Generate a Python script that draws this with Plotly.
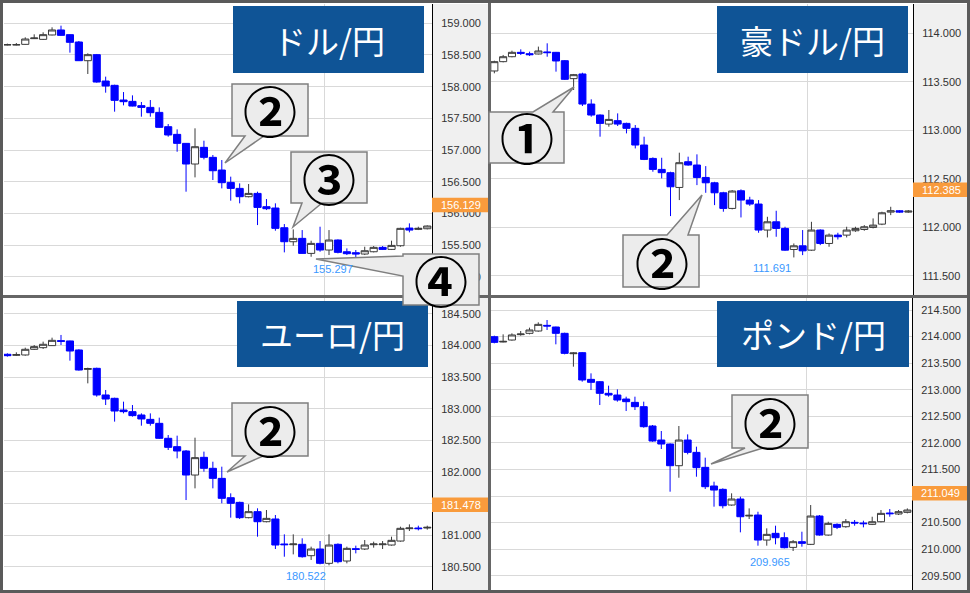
import plotly.graph_objects as go

W, H = 970, 593

# ---------------- data ----------------
TITLES = ["ドル/円", "豪ドル/円", "ユーロ/円", "ポンド/円"]
CURRENT_PRICE = [156.129, 112.385, 181.478, 211.049]
DAY_BREAK = 35.5  # vertical separator between sessions (candle index)

USDJPY_OPEN = [158.658,158.658,158.668,158.758,158.747,158.816,158.895,158.821,158.705,158.410,158.505,158.089,158.021,157.789,157.768,157.700,157.673,157.594,157.368,157.247,157.105,156.779,157.042,156.884,156.684,156.489,156.394,156.263,156.315,156.105,156.084,155.773,155.552,155.605,155.368,155.526,155.421,155.579,155.394,155.379,155.358,155.394,155.463,155.431,155.489,155.768,155.747,155.757]
USDJPY_HIGH = [158.679,158.689,158.779,158.826,158.858,158.937,158.963,158.825,158.721,158.526,158.516,158.158,158.031,157.915,157.863,157.758,157.789,157.673,157.410,157.326,157.110,157.342,157.147,156.921,156.842,156.579,156.473,156.463,156.342,156.226,156.158,155.831,155.747,155.736,155.568,155.789,155.736,155.589,155.447,155.421,155.473,155.484,155.484,155.568,155.773,155.842,155.789,155.810]
USDJPY_LOW = [158.652,158.652,158.663,158.752,158.737,158.810,158.805,158.537,158.405,158.200,158.063,157.905,157.605,157.705,157.689,157.526,157.526,157.352,157.210,156.973,156.342,156.568,156.852,156.526,156.394,156.200,156.158,156.252,155.815,156.052,155.726,155.384,155.489,155.365,155.315,155.394,155.342,155.368,155.342,155.297,155.342,155.384,155.421,155.421,155.473,155.700,155.736,155.747]
USDJPY_CLOSE = [158.663,158.663,158.752,158.768,158.821,158.895,158.810,158.700,158.410,158.505,158.073,158.010,157.784,157.763,157.694,157.673,157.589,157.358,157.237,157.105,156.779,157.052,156.884,156.673,156.484,156.394,156.263,156.315,156.094,156.073,155.763,155.552,155.605,155.368,155.526,155.421,155.579,155.384,155.363,155.358,155.410,155.463,155.431,155.494,155.763,155.736,155.763,155.800]

AUDJPY_OPEN = [113.612,113.708,113.759,113.804,113.790,113.787,113.808,113.804,113.718,113.533,113.581,113.271,113.158,113.065,113.100,113.072,113.021,112.849,112.711,112.598,112.564,112.412,112.677,112.643,112.515,112.460,112.357,112.196,112.378,112.282,112.241,111.973,112.058,111.990,111.773,111.811,111.766,111.973,111.835,111.921,111.921,111.966,111.979,112.000,112.034,112.158,112.172,112.158]
AUDJPY_HIGH = [113.718,113.777,113.821,113.835,113.811,113.863,113.897,113.808,113.725,113.581,113.594,113.320,113.165,113.210,113.175,113.079,113.055,112.935,112.722,112.718,112.574,112.770,112.729,112.753,112.632,112.470,112.367,112.385,112.392,112.316,112.282,112.110,112.172,112.007,111.835,111.973,112.058,111.980,111.938,111.945,112.007,112.007,112.024,112.093,112.162,112.213,112.179,112.179]
AUDJPY_LOW = [113.588,113.701,113.753,113.777,113.766,113.783,113.759,113.605,113.519,113.416,113.251,113.141,112.935,113.038,113.045,112.969,112.814,112.694,112.574,112.505,112.117,112.282,112.636,112.436,112.357,112.230,112.162,112.186,112.103,112.223,111.945,111.897,111.904,111.759,111.691,111.715,111.759,111.818,111.801,111.876,111.897,111.955,111.966,111.990,112.024,112.127,112.151,112.151]
AUDJPY_CLOSE = [113.708,113.759,113.804,113.794,113.780,113.818,113.801,113.715,113.526,113.574,113.271,113.158,113.072,113.113,113.065,113.021,112.849,112.701,112.598,112.564,112.419,112.667,112.643,112.515,112.460,112.357,112.196,112.375,112.282,112.241,111.973,112.058,111.990,111.766,111.811,111.759,111.973,111.835,111.921,111.904,111.973,111.990,112.007,112.024,112.151,112.172,112.158,112.168]

EURJPY_OPEN = [183.862,183.846,183.851,183.941,183.967,183.999,184.078,184.073,183.930,183.624,183.640,183.218,183.165,182.980,182.954,182.901,182.832,182.769,182.532,182.400,182.331,181.951,182.231,182.057,181.898,181.592,181.518,181.276,181.371,181.212,181.255,180.859,180.848,180.854,180.674,180.780,180.553,180.854,180.590,180.785,180.780,180.848,180.848,180.843,180.906,181.102,181.112,181.112]
EURJPY_HIGH = [183.877,183.893,183.967,184.009,184.062,184.125,184.168,184.078,183.941,183.650,183.650,183.297,183.175,183.112,183.059,182.927,182.927,182.859,182.584,182.574,182.347,182.542,182.321,182.162,182.083,181.661,181.529,181.487,181.424,181.397,181.318,181.012,181.012,180.949,180.817,180.906,181.012,180.869,180.817,180.833,180.922,180.896,180.906,180.975,181.133,181.170,181.149,181.149]
EURJPY_LOW = [183.825,183.835,183.840,183.930,183.946,183.993,184.009,183.761,183.603,183.402,183.191,183.059,182.796,182.927,182.875,182.732,182.732,182.521,182.347,182.215,181.555,181.740,182.004,181.740,181.503,181.276,181.255,181.265,180.975,181.202,180.780,180.658,180.695,180.643,180.606,180.537,180.522,180.553,180.553,180.711,180.764,180.801,180.780,180.833,180.896,181.065,181.075,181.086]
EURJPY_CLOSE = [183.840,183.856,183.941,183.983,184.020,184.083,184.067,183.914,183.613,183.635,183.218,183.154,182.964,182.954,182.891,182.838,182.769,182.532,182.389,182.331,181.951,182.226,182.057,181.898,181.582,181.503,181.276,181.371,181.212,181.265,180.843,180.848,180.859,180.658,180.780,180.553,180.843,180.579,180.790,180.774,180.843,180.859,180.859,180.917,181.107,181.112,181.102,181.123]

GBPJPY_OPEN = [213.998,213.898,213.935,214.036,214.061,214.105,214.211,214.180,214.061,213.678,213.697,213.195,213.151,212.932,212.900,212.825,212.762,212.681,212.317,212.053,211.978,211.570,212.053,211.821,211.539,211.188,211.125,210.830,210.943,210.623,210.642,210.171,210.297,210.215,210.033,210.140,210.090,210.623,210.265,210.466,210.422,210.504,210.491,210.466,210.516,210.680,210.661,210.692]
GBPJPY_HIGH = [214.017,214.042,214.061,214.105,214.168,214.268,214.312,214.186,214.073,213.703,213.710,213.308,213.164,213.076,213.007,212.869,212.869,212.775,212.336,212.223,211.990,212.317,212.160,211.928,211.721,211.269,211.144,211.050,210.987,210.767,210.704,210.391,210.441,210.316,210.171,210.328,210.830,210.642,210.516,210.485,210.566,210.548,210.535,210.610,210.736,210.755,210.736,210.767]
GBPJPY_LOW = [213.873,213.891,213.923,214.017,214.042,214.092,214.124,213.854,213.666,213.434,213.151,212.994,212.712,212.869,212.775,212.599,212.618,212.285,212.022,211.884,211.081,211.344,211.784,211.363,211.131,210.799,210.767,210.817,210.316,210.566,210.065,210.065,210.090,210.014,209.965,210.046,210.077,210.253,210.253,210.378,210.403,210.441,210.410,210.453,210.504,210.610,210.642,210.673]
GBPJPY_CLOSE = [213.891,213.910,214.030,214.048,214.124,214.230,214.199,214.061,213.684,213.691,213.183,213.139,212.932,212.900,212.806,212.775,212.681,212.304,212.035,211.978,211.570,212.053,211.821,211.533,211.175,211.112,210.817,210.943,210.610,210.636,210.171,210.278,210.215,210.027,210.140,210.109,210.623,210.265,210.485,210.410,210.516,210.491,210.479,210.516,210.673,210.667,210.705,210.736]

CALLOUT_LABELS = ["②", "③", "④", "①", "②", "②", "②"]

# ---------------- styles / geometry ----------------
GRID = "#d9d9d9"
AXIS_BG = "#f0f0f0"
FRAME = "#666666"
TITLE_BG = "#0f5496"
ORANGE = "#f99b3c"
MIN_BLUE = "#3a98ff"
CALLOUT_FILL = "#ececec"
CALLOUT_LINE = "#7f7f7f"
JP_FONT = "Noto Sans CJK JP"
NUM_FONT = "Liberation Sans, Arial"


def fx(x):
    return x / W


def fy(y):
    return 1 - y / H


panels = [
    dict(o=USDJPY_OPEN, h=USDJPY_HIGH, l=USDJPY_LOW, c=USDJPY_CLOSE,
         yr=[154.711, 159.305], box=(4, 4, 432, 295), axr=488,
         tbox=(233, 6, 424, 73)),
    dict(o=AUDJPY_OPEN, h=AUDJPY_HIGH, l=AUDJPY_LOW, c=AUDJPY_CLOSE,
         yr=[111.304, 114.302], box=(491, 4, 913, 295), axr=967,
         tbox=(717, 6, 908, 73)),
    dict(o=EURJPY_OPEN, h=EURJPY_HIGH, l=EURJPY_LOW, c=EURJPY_CLOSE,
         yr=[180.131, 184.753], box=(4, 298, 432, 590), axr=488,
         tbox=(237, 301, 428, 367)),
    dict(o=GBPJPY_OPEN, h=GBPJPY_HIGH, l=GBPJPY_LOW, c=GBPJPY_CLOSE,
         yr=[209.231, 214.726], box=(491, 298, 912, 590), axr=967,
         tbox=(717, 301, 909, 367)),
]

fig = go.Figure()
shapes = []
annotations = []

for i, p in enumerate(panels):
    k = "" if i == 0 else str(i + 1)
    xa, ya = "x" + k, "y" + k
    n = len(p["o"])
    idx = list(range(n))
    fig.add_trace(go.Candlestick(
        x=idx, open=p["o"], high=p["h"], low=p["l"], close=p["c"],
        xaxis=xa, yaxis=ya,
        increasing=dict(line=dict(color="#3a3a3a", width=1), fillcolor="#ffffff"),
        decreasing=dict(line=dict(color="#0000ff", width=1), fillcolor="#0000ff"),
        hoverinfo="skip", showlegend=False,
    ))
    x0, y0, x1, y1 = p["box"]
    fig.layout["xaxis" + k] = dict(
        domain=[fx(x0), fx(x1)], anchor=ya, range=[-0.38, n - 0.47],
        showticklabels=False, ticks="", tickvals=[DAY_BREAK],
        showgrid=True, gridcolor=GRID, gridwidth=1,
        zeroline=False, showline=False, rangeslider=dict(visible=False),
        fixedrange=True,
    )
    fig.layout["yaxis" + k] = dict(
        domain=[fy(y1), fy(y0)], anchor=xa, side="right", range=p["yr"],
        dtick=0.5, tick0=0, tickformat=".3f",
        showgrid=True, gridcolor=GRID, gridwidth=1, zeroline=False,
        showline=True, linecolor="#000000", linewidth=1,
        ticks="outside", ticklen=6, tickcolor="rgba(0,0,0,0)",
        tickfont=dict(family=NUM_FONT, size=11, color="#333333"),
        fixedrange=True,
    )
    # axis label background
    shapes.append(dict(type="rect", xref="paper", yref="paper",
                       x0=fx(x1), x1=fx(p["axr"]), y0=fy(y1), y1=fy(y0),
                       fillcolor=AXIS_BG, line=dict(width=0), layer="below"))
    # title box
    tx0, ty0, tx1, ty1 = p["tbox"]
    shapes.append(dict(type="rect", xref="paper", yref="paper",
                       x0=fx(tx0), x1=fx(tx1), y0=fy(ty1), y1=fy(ty0),
                       fillcolor=TITLE_BG, line=dict(width=0), layer="above"))
    annotations.append(dict(xref="paper", yref="paper",
                            x=fx((tx0 + tx1) / 2), y=fy((ty0 + ty1) / 2),
                            text=TITLES[i], showarrow=False,
                            xanchor="center", yanchor="middle",
                            font=dict(family=JP_FONT, size=33, color="#ffffff")))
    # current price tag
    cur = CURRENT_PRICE[i]
    shapes.append(dict(type="rect", xref="paper", yref=ya, ysizemode="pixel",
                       yanchor=cur, y0=-7, y1=7.5,
                       x0=fx(x1), x1=fx(p["axr"]),
                       fillcolor=ORANGE, line=dict(width=0), layer="above"))
    annotations.append(dict(xref="paper", yref=ya, x=fx(x1 + 7), y=cur,
                            text=f"{cur:.3f}", showarrow=False,
                            xanchor="left", yanchor="middle",
                            font=dict(family=NUM_FONT, size=11, color="#ffffff")))
    # lowest price label
    lows = p["l"]
    imin = min(range(n), key=lambda j: lows[j])
    annotations.append(dict(xref=xa, yref=ya, x=imin, y=lows[imin],
                            text=f"{lows[imin]:.3f}", showarrow=False,
                            xanchor="right", yanchor="top", xshift=-1, yshift=-3,
                            font=dict(family=NUM_FONT, size=11, color=MIN_BLUE)))

# frame and separators
shapes.append(dict(type="line", xref="paper", yref="paper", x0=fx(489.5), x1=fx(489.5),
                   y0=0, y1=1, line=dict(color=FRAME, width=3), layer="above"))
shapes.append(dict(type="line", xref="paper", yref="paper", x0=0, x1=1,
                   y0=fy(296.5), y1=fy(296.5), line=dict(color=FRAME, width=3), layer="above"))
shapes.append(dict(type="rect", xref="paper", yref="paper", x0=0, x1=1, y0=0, y1=1,
                   line=dict(color="#5a5a5a", width=6), fillcolor="rgba(0,0,0,0)", layer="above"))


def callout_path(box, edge, base, tip):
    x0, y0, x1, y1 = box
    b0, b1 = base
    if edge == "top":
        pts = [(x0, y0), (b0, y0), tip, (b1, y0), (x1, y0), (x1, y1), (x0, y1)]
    elif edge == "bottom":
        pts = [(x0, y0), (x1, y0), (x1, y1), (b1, y1), tip, (b0, y1), (x0, y1)]
    else:  # left
        pts = [(x0, y0), (x1, y0), (x1, y1), (x0, y1), (x0, b1), tip, (x0, b0)]
    s = "M " + " L ".join(f"{fx(a):.5f},{fy(b):.5f}" for a, b in pts) + " Z"
    return s


CALLOUTS = [
    dict(box=(232, 84, 308, 136), edge="bottom", base=(245, 264), tip=(225, 163), c=(270.3, 110)),
    dict(box=(291, 152, 367, 203), edge="bottom", base=(302, 322), tip=(293, 227), c=(328.5, 177.5)),
    dict(box=(403, 254, 479, 305), edge="left", base=(256, 276), tip=(316, 259), c=(440.5, 280)),
    dict(box=(489, 112, 564, 163), edge="top", base=(533, 553), tip=(574, 87), c=(526.7, 137)),
    dict(box=(623, 235, 699, 287), edge="top", base=(667, 688), tip=(702, 195), c=(661.5, 261)),
    dict(box=(232, 403, 308, 456), edge="bottom", base=(245, 263), tip=(227, 472), c=(270, 429)),
    dict(box=(732, 395, 808, 448), edge="bottom", base=(745, 763), tip=(711, 464), c=(770, 421.5)),
]
for co, lab in zip(CALLOUTS, CALLOUT_LABELS):
    shapes.append(dict(type="path", xref="paper", yref="paper",
                       path=callout_path(co["box"], co["edge"], co["base"], co["tip"]),
                       fillcolor=CALLOUT_FILL, line=dict(color=CALLOUT_LINE, width=1.5),
                       layer="above"))
    annotations.append(dict(xref="paper", yref="paper", x=fx(co["c"][0]), y=fy(co["c"][1]),
                            text=f"<b>{lab}</b>", showarrow=False,
                            xanchor="center", yanchor="middle",
                            font=dict(family=JP_FONT, size=54, color="#000000")))

fig.update_layout(
    width=W, height=H, margin=dict(l=0, r=0, t=0, b=0),
    paper_bgcolor="#ffffff", plot_bgcolor="#ffffff",
    boxgap=0.2, boxgroupgap=0, showlegend=False, hovermode=False,
    shapes=shapes, annotations=annotations,
)

fig.write_html(
    "out.html",
    config={"displayModeBar": False, "staticPlot": True},
    post_script="document.body.style.margin='0';document.body.style.overflow='hidden';",
)
